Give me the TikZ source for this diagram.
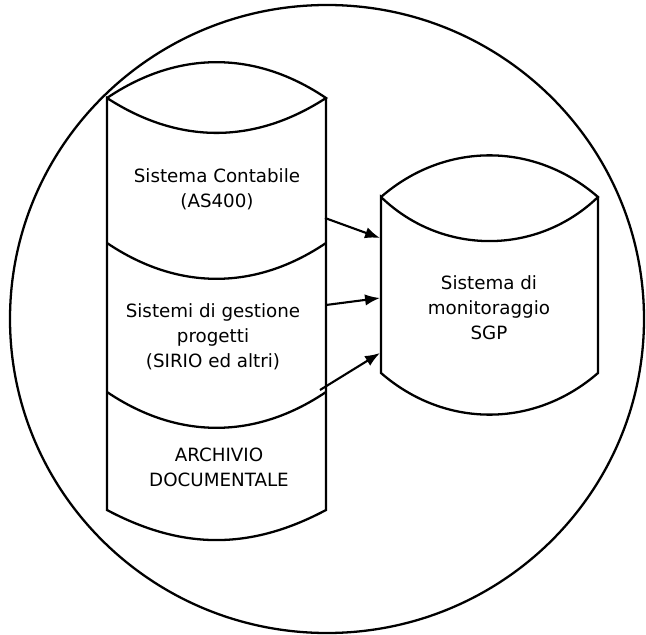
\documentclass[tikz,border=0pt]{standalone}
\usepackage{fontspec}
\setmainfont{DejaVu Sans}
\usetikzlibrary{arrows.meta}
\tikzset{
   db line/.style={draw=black, line width=1.3pt},
   db text/.style={align=center, font=\fontsize{10.4}{14.2}\selectfont, inner sep=0pt},
   flow/.style={->, draw=black, line width=1.2pt},
   >={Latex[length=8.5pt,width=6.5pt]}
}

\begin{document}
\begin{tikzpicture}[x=0.02cm, y=-0.02cm]

  \useasboundingbox (0,0) rectangle (646,635);

  \draw[db line] (327,319) ellipse [x radius=317, y radius=314];

  %%%%%%%%%%%

  \draw[db line] (107,98) to[bend left=34] (326,98) to[bend left=33] (107,98)
                 -- (107,510) to[bend right=28] (326,510) -- (326,98);
  \draw[db line] (107,243) to[bend right=34] (326,243);
  \draw[db line] (107,392) to[bend right=34] (326,392);

  \draw[db line] (381,197) to[bend left=41] (598,197) to[bend left=44] (381,197)
                 -- (381,373) to[bend right=41] (598,373) -- (598,197);

  %%%%%%%%%%%

  \node[db text] at (217,189) (contabile) {Sistema Contabile\\(AS400)};
  \node[db text] at (213,337) (progetti)  {Sistemi di gestione\\progetti\\(SIRIO ed altri)};
  \node[db text] at (219,467) (archivio)  {ARCHIVIO\\DOCUMENTALE};
  \node[db text] at (489,308) (sgp)       {Sistema di\\monitoraggio\\SGP};

  \coordinate (from contabile) at (325,218);
  \coordinate (from progetti)  at (326,305);
  \coordinate (from archivio)  at (320,390);
  \coordinate (to sgp a) at (380,238);
  \coordinate (to sgp b) at (380,298);
  \coordinate (to sgp c) at (380,353);

  %%%%%%%%%%%

  \draw[flow] (from contabile) -- (to sgp a);
  \draw[flow] (from progetti)  -- (to sgp b);
  \draw[flow] (from archivio)  -- (to sgp c);

\end{tikzpicture}
\end{document}
